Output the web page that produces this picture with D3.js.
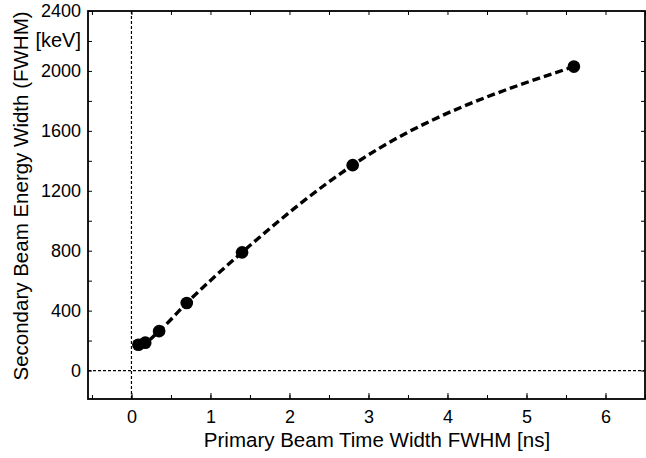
<!DOCTYPE html>
<html><head><meta charset="utf-8">
<script src="https://cdn.jsdelivr.net/npm/d3@7"></script>
<style>body{margin:0;background:#fff;} text{font-family:"Liberation Sans",Arial,sans-serif;fill:#000;}</style>
</head><body>
<svg id="c" width="646" height="458"></svg>
<script>
const timeWidth = [0.0875, 0.175, 0.35, 0.7, 1.4, 2.8, 5.6];
const energyWidth = [172, 186, 263, 451, 789, 1371, 2029];
const xTickLabels = [0, 1, 2, 3, 4, 5, 6];
const yTickLabels = [0, 400, 800, 1200, 1600, 2000, 2400];
const xLabel = "Primary Beam Time Width FWHM [ns]";
const yLabel = "Secondary Beam Energy Width (FWHM)";
const yUnit = "[keV]";

const svg = d3.select("#c");
const L = 88, R = 645, T = 11, B = 399;
const x = d3.scaleLinear().domain([-0.55, 6.5]).range([L, R]);
const y = d3.scaleLinear().domain([-190, 2400]).range([B, T]);

// reference lines at 0
svg.append("line").attr("x1", x(0)).attr("x2", x(0)).attr("y1", T).attr("y2", B)
  .attr("stroke", "#000").attr("stroke-width", 1.2).attr("stroke-dasharray", "3,2");
svg.append("line").attr("x1", L).attr("x2", R).attr("y1", y(0)).attr("y2", y(0))
  .attr("stroke", "#000").attr("stroke-width", 1.2).attr("stroke-dasharray", "3,2");

// axes with inward ticks
const xMinor = d3.range(-0.5, 6.51, 0.5);
const yMinor = d3.range(-200, 2401, 200).filter(v => v >= -190);
svg.append("g").attr("transform", `translate(0,${B})`)
  .call(d3.axisBottom(x).tickValues(xMinor).tickSize(-4).tickFormat(""))
  .call(g => g.select(".domain").remove());
svg.append("g").attr("transform", `translate(0,${B})`)
  .call(d3.axisBottom(x).tickValues(xTickLabels).tickSize(-6).tickPadding(11).tickFormat(d3.format("d")))
  .call(g => g.select(".domain").remove())
  .call(g => g.selectAll("text").attr("font-size", 18).style("font-family", "Liberation Sans, Arial, sans-serif"));
svg.append("g").attr("transform", `translate(0,${T})`)
  .call(d3.axisTop(x).tickValues(xMinor).tickSize(-4).tickFormat(""))
  .call(g => g.select(".domain").remove());
svg.append("g").attr("transform", `translate(${L},0)`)
  .call(d3.axisLeft(y).tickValues(yMinor).tickSize(-4).tickFormat(""))
  .call(g => g.select(".domain").remove());
svg.append("g").attr("transform", `translate(${L},0)`)
  .call(d3.axisLeft(y).tickValues(yTickLabels).tickSize(0).tickPadding(7).tickFormat(d3.format("d")))
  .call(g => g.select(".domain").remove())
  .call(g => g.selectAll("text").attr("font-size", 18).style("font-family", "Liberation Sans, Arial, sans-serif"));
svg.append("g").attr("transform", `translate(${R},0)`)
  .call(d3.axisRight(y).tickValues(yMinor).tickSize(-4).tickFormat(""))
  .call(g => g.select(".domain").remove());
svg.selectAll(".tick line").attr("stroke", "#000").attr("stroke-width", 1);

// frame
svg.append("rect").attr("x", L).attr("y", T).attr("width", R - L).attr("height", B - T)
  .attr("fill", "none").attr("stroke", "#000").attr("stroke-width", 1.8);

// curve
const pts = timeWidth.map((t, i) => [t, energyWidth[i]]);
const line = d3.line().x(d => x(d[0])).y(d => y(d[1])).curve(d3.curveMonotoneX);
svg.append("path").datum(pts).attr("d", line).attr("fill", "none")
  .attr("stroke", "#000").attr("stroke-width", 3.4).attr("stroke-dasharray", "8,4");
svg.selectAll("circle.pt").data(pts).enter().append("circle").attr("class", "pt")
  .attr("cx", d => x(d[0])).attr("cy", d => y(d[1])).attr("r", 6.3).attr("fill", "#000");

// labels
svg.append("text").attr("x", 377).attr("y", 447).attr("text-anchor", "middle")
  .attr("font-size", 20.5).text(xLabel);
svg.append("text").attr("transform", "translate(28,196) rotate(-90)").attr("text-anchor", "middle")
  .attr("font-size", 20.5).text(yLabel);
svg.append("text").attr("x", 81).attr("y", 47).attr("text-anchor", "end")
  .attr("font-size", 20).text(yUnit);
</script>
</body></html>
